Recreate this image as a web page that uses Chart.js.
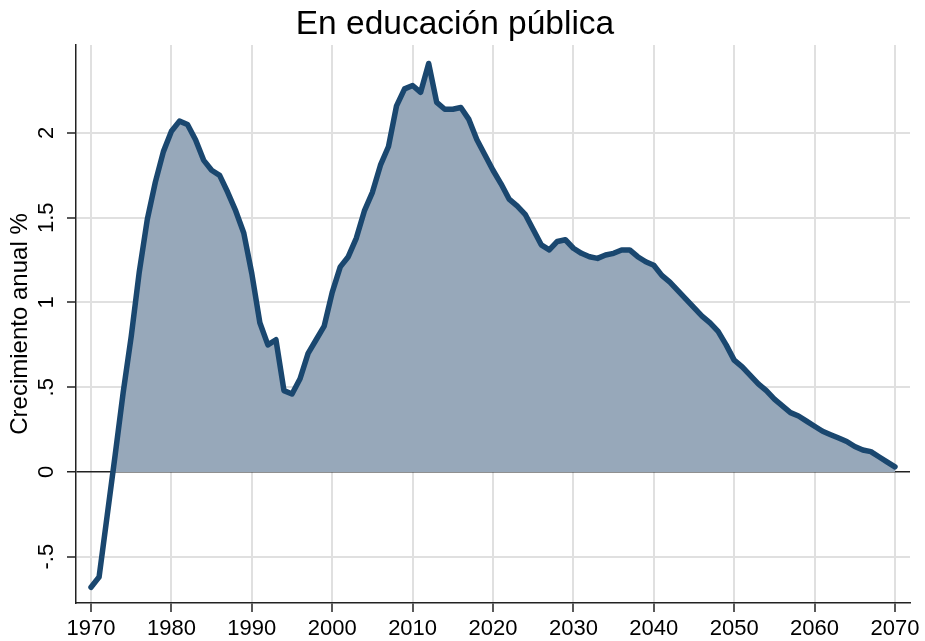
<!DOCTYPE html>
<html lang="es">
<head>
<meta charset="UTF-8">
<title>En educación pública</title>
<script src="https://cdn.jsdelivr.net/npm/chart.js"></script>
<style>
  html, body { margin: 0; padding: 0; background: #fff; }
  #wrap { width: 925px; height: 641px; }
</style>
</head>
<body>
<div id="wrap"><canvas id="chart" width="925" height="641"></canvas></div>
<script>
// data
const years = [
  1970, 1971, 1972, 1973, 1974, 1975, 1976, 1977, 1978, 1979,
  1980, 1981, 1982, 1983, 1984, 1985, 1986, 1987, 1988, 1989,
  1990, 1991, 1992, 1993, 1994, 1995, 1996, 1997, 1998, 1999,
  2000, 2001, 2002, 2003, 2004, 2005, 2006, 2007, 2008, 2009,
  2010, 2011, 2012, 2013, 2014, 2015, 2016, 2017, 2018, 2019,
  2020, 2021, 2022, 2023, 2024, 2025, 2026, 2027, 2028, 2029,
  2030, 2031, 2032, 2033, 2034, 2035, 2036, 2037, 2038, 2039,
  2040, 2041, 2042, 2043, 2044, 2045, 2046, 2047, 2048, 2049,
  2050, 2051, 2052, 2053, 2054, 2055, 2056, 2057, 2058, 2059,
  2060, 2061, 2062, 2063, 2064, 2065, 2066, 2067, 2068, 2069,
  2070
];
const growth = [
  -0.68, -0.62, -0.26, 0.10, 0.47, 0.80, 1.18, 1.49, 1.71, 1.89,
  2.01, 2.07, 2.05, 1.96, 1.84, 1.78, 1.75, 1.65, 1.54, 1.41,
  1.17, 0.88, 0.75, 0.78, 0.48, 0.46, 0.55, 0.70, 0.78, 0.86,
  1.06, 1.21, 1.27, 1.38, 1.54, 1.65, 1.81, 1.92, 2.16, 2.26,
  2.28, 2.24, 2.41, 2.18, 2.14, 2.14, 2.15, 2.08, 1.96, 1.87,
  1.78, 1.70, 1.61, 1.57, 1.52, 1.43, 1.34, 1.31, 1.36, 1.37,
  1.32, 1.29, 1.27, 1.26, 1.28, 1.29, 1.31, 1.31, 1.27, 1.24,
  1.22, 1.16, 1.12, 1.07, 1.02, 0.97, 0.92, 0.88, 0.83, 0.75,
  0.66, 0.62, 0.57, 0.52, 0.48, 0.43, 0.39, 0.35, 0.33, 0.30,
  0.27, 0.24, 0.22, 0.20, 0.18, 0.15, 0.13, 0.12, 0.09, 0.06,
  0.03
];
const xTicks = [1970, 1980, 1990, 2000, 2010, 2020, 2030, 2040, 2050, 2060, 2070];
const yTicks = [-0.5, 0, 0.5, 1, 1.5, 2];

const FONT = '"Liberation Sans", Arial, Helvetica, sans-serif';
const points = years.map((yr, i) => ({ x: yr, y: growth[i] }));

function fmtY(v) {
  return String(v).replace(/^(-?)0\./, '$1.');
}

// y tick labels are rotated in the original, Chart.js only rotates x labels
const rotatedYLabels = {
  id: 'rotatedYLabels',
  afterDraw(chart) {
    const scale = chart.scales.y;
    const ctx = chart.ctx;
    ctx.save();
    ctx.fillStyle = '#000';
    ctx.font = '22px ' + FONT;
    ctx.textAlign = 'center';
    ctx.textBaseline = 'alphabetic';
    scale.ticks.forEach(t => {
      const py = scale.getPixelForValue(t.value);
      ctx.save();
      ctx.translate(53, py);
      ctx.rotate(-Math.PI / 2);
      ctx.fillText(fmtY(t.value), 0, 0);
      ctx.restore();
    });
    ctx.restore();
  }
};

new Chart(document.getElementById('chart'), {
  type: 'line',
  data: {
    datasets: [{
      data: points,
      borderColor: '#1a476f',
      borderWidth: 5.5,
      borderJoinStyle: 'round',
      borderCapStyle: 'round',
      pointRadius: 0,
      tension: 0,
      fill: { target: 'origin', above: '#97a8ba', below: 'rgba(0,0,0,0)' }
    }]
  },
  options: {
    responsive: false,
    animation: false,
    layout: { padding: { top: 0, right: 15, bottom: 0, left: 0 } },
    plugins: {
      legend: { display: false },
      tooltip: { enabled: false },
      title: {
        display: true,
        text: 'En educación pública',
        color: '#000',
        font: { family: FONT, size: 33.5, weight: 'normal', lineHeight: 1.2 },
        padding: { top: 4.8, bottom: 0 }
      }
    },
    scales: {
      x: {
        type: 'linear',
        min: 1968.13,
        max: 2071.87,
        afterBuildTicks: s => { s.ticks = xTicks.map(v => ({ value: v })); },
        afterFit: s => { s.height = 38; },
        ticks: {
          color: '#000',
          font: { family: FONT, size: 22 },
          padding: 4,
          maxRotation: 0,
          callback: v => String(v)
        },
        grid: {
          color: '#e0e0e0',
          lineWidth: 2,
          tickColor: '#222',
          tickLength: 9,
          tickWidth: 1.5
        },
        border: { display: true, color: '#222', width: 1.5 }
      },
      y: {
        min: -0.773,
        max: 2.519,
        afterBuildTicks: s => { s.ticks = yTicks.map(v => ({ value: v })); },
        afterFit: s => { s.width = 76; },
        ticks: { display: false },
        title: {
          display: true,
          text: 'Crecimiento anual %',
          color: '#000',
          font: { family: FONT, size: 24 },
          padding: { top: 5.5, bottom: 0 }
        },
        grid: {
          color: c => (c.tick && c.tick.value === 0 ? '#222' : '#e0e0e0'),
          lineWidth: c => (c.tick && c.tick.value === 0 ? 1.5 : 2),
          tickColor: '#222',
          tickLength: 9,
          tickWidth: 1.5
        },
        border: { display: true, color: '#222', width: 1.5 }
      }
    }
  },
  plugins: [rotatedYLabels]
});
</script>
</body>
</html>
